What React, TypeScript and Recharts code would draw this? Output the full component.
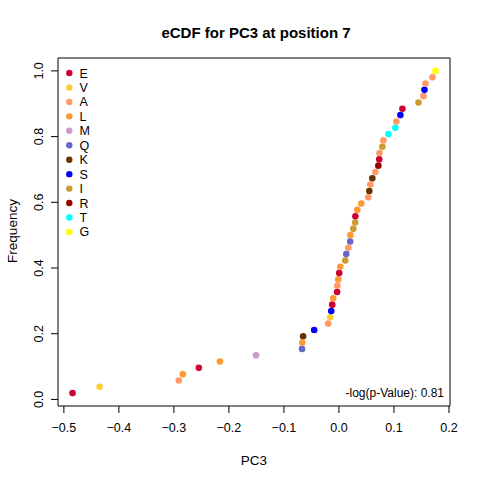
import { ScatterChart, Scatter, XAxis, YAxis, ReferenceArea, Cell } from "recharts"

// residue types, in legend order, with their colours
const residues = ["E", "V", "A", "L", "M", "Q", "K", "S", "I", "R", "T", "G"]
const residueColors = ["#CC0033", "#FFCC33", "#FF9966", "#FF9933", "#CC99CC", "#6666CC", "#663300", "#0000FF", "#CC9933", "#990000", "#00FFFF", "#FFFF00"]

// PC3 values at position 7, sorted, with the residue of each observation
const pc3 = [
  -0.4843, -0.4351, -0.2911, -0.2838, -0.2547, -0.2164, -0.1507, -0.0671, -0.0666, -0.0651,
  -0.045, -0.0195, -0.0159, -0.014, -0.0122, -0.0104, -0.0033, -0.0029, -0.0013, 0.0005,
  0.0024, 0.0115, 0.0133, 0.017, 0.0204, 0.0208, 0.0261, 0.0295, 0.0299, 0.0334,
  0.0407, 0.0534, 0.0552, 0.0571, 0.0607, 0.0662, 0.0716, 0.0733, 0.0737, 0.0789,
  0.0807, 0.0899, 0.1026, 0.1044, 0.1117, 0.1154, 0.1446, 0.1537, 0.1555, 0.1573,
  0.1701, 0.1755,
]
const pc3Residue = [
  "E", "V", "A", "L", "E", "L", "M", "Q", "L", "K",
  "S", "A", "V", "S", "E", "L", "E", "A", "L", "E",
  "L", "I", "Q", "A", "Q", "L", "I", "I", "E", "L",
  "L", "A", "K", "A", "K", "A", "R", "E", "A", "I",
  "A", "T", "T", "A", "S", "E", "I", "A", "S", "A",
  "A", "G",
]

const xTicks = [-0.5, -0.4, -0.3, -0.2, -0.1, 0.0, 0.1, 0.2]
const yTicks = [0.0, 0.2, 0.4, 0.6, 0.8, 1.0]
const pValueText = "-log(p-Value): 0.81"

const n = pc3.length
const data = pc3.map((v, i) => ({ x: v, y: (i + 1) / n, res: pc3Residue[i] }))

// R style 4% extension of the data range
const xMin = Math.min(...pc3), xMax = Math.max(...pc3)
const xPad = (xMax - xMin) * 0.04
const xDomain: [number, number] = [xMin - xPad, xMax + xPad]
const yPad = (1 - 1 / n) * 0.04
const yDomain: [number, number] = [1 / n - yPad, 1 + yPad]

const font = "'Liberation Sans', Arial, sans-serif"
const colorOf = (r: string) => residueColors[residues.indexOf(r)]
const fmt = (v: number) => v.toFixed(1).replace("-", "\u2212")

function YTick({ y, payload }: any) {
  return (
    <text transform={`translate(43, ${y}) rotate(-90)`} textAnchor="middle" fontSize={12.5} fontFamily={font} fill="#000">
      {fmt(payload.value)}
    </text>
  )
}

function Dot({ cx, cy, fill }: any) {
  return <circle cx={cx} cy={cy} r={3.3} fill={fill} />
}

export default function App() {
  return (
    <div style={{ position: "absolute", left: 0, top: 0, width: 480, height: 480, background: "#fff", fontFamily: font }}>
      <ScatterChart width={480} height={480} margin={{ top: 58, right: 30, bottom: 0, left: 0 }}>
        <XAxis
          type="number"
          dataKey="x"
          domain={xDomain}
          allowDataOverflow
          ticks={xTicks}
          tickFormatter={fmt}
          axisLine={false}
          tickLine={{ stroke: "#000" }}
          tickSize={7}
          tickMargin={10}
          height={74}
          tick={{ fill: "#000", fontSize: 12.5, fontFamily: font }}
        />
        <YAxis
          type="number"
          dataKey="y"
          domain={yDomain}
          allowDataOverflow
          ticks={yTicks}
          axisLine={false}
          tickLine={{ stroke: "#000" }}
          tickSize={7}
          width={58}
          tick={<YTick />}
        />
        <ReferenceArea x1={xDomain[0]} x2={xDomain[1]} y1={yDomain[0]} y2={yDomain[1]} fill="none" stroke="#000" strokeWidth={1} fillOpacity={0} />
        <Scatter data={data} isAnimationActive={false} shape={<Dot />}>
          {data.map((d, i) => (
            <Cell key={`cell-${i}`} fill={colorOf(d.res)} />
          ))}
        </Scatter>
      </ScatterChart>
      <svg width={480} height={480} style={{ position: "absolute", left: 0, top: 0, pointerEvents: "none" }}>
        <text x={256} y={38} textAnchor="middle" fontWeight="bold" fontSize={15} fontFamily={font}>eCDF for PC3 at position 7</text>
        <text x={254} y={465} textAnchor="middle" fontSize={13.5} fontFamily={font}>PC3</text>
        <text transform="translate(17, 231) rotate(-90)" textAnchor="middle" fontSize={13.5} fontFamily={font}>Frequency</text>
        <text x={444} y={397} textAnchor="end" fontSize={12} fontFamily={font}>{pValueText}</text>
        {residues.map((r, i) => (
          <g key={r}>
            <circle cx={69.3} cy={73 + i * 14.45} r={3.2} fill={residueColors[i]} />
            <text x={79.5} y={77.5 + i * 14.45} fontSize={12.5} fontFamily={font}>{r}</text>
          </g>
        ))}
      </svg>
    </div>
  )
}
